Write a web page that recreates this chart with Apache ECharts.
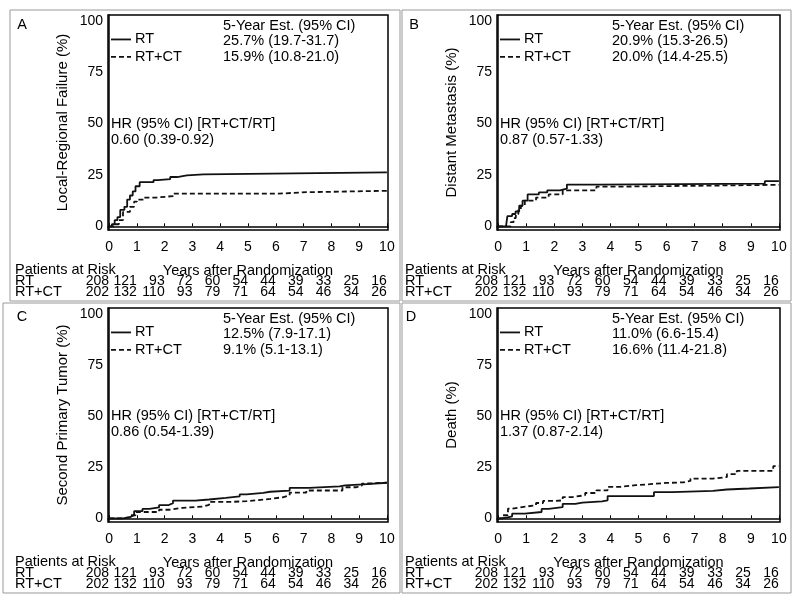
<!DOCTYPE html>
<html><head><meta charset="utf-8">
<script src="https://cdn.jsdelivr.net/npm/echarts@6/dist/echarts.min.js"></script>
<style>html,body{margin:0;padding:0;background:#fff}#c{width:800px;height:608px}</style>
</head><body><div id="c"></div>
<script>
// ---------- data ----------
const years = [0,1,2,3,4,5,6,7,8,9,10];
const yTicks = [0,25,50,75,100];
const atRiskRT   = [208,121,93,72,60,54,44,39,33,25,16];
const atRiskRTCT = [202,132,110,93,79,71,64,54,46,34,26];
const panelLetters = ['A','B','C','D'];
const yTitles = ['Local-Regional Failure (%)','Distant Metastasis (%)','Second Primary Tumor (%)','Death (%)'];
const estHeader = '5-Year Est. (95% CI)';
const est5RT   = ['25.7% (19.7-31.7)','20.9% (15.3-26.5)','12.5% (7.9-17.1)','11.0% (6.6-15.4)'];
const est5RTCT = ['15.9% (10.8-21.0)','20.0% (14.4-25.5)','9.1% (5.1-13.1)','16.6% (11.4-21.8)'];
const hrHeader = 'HR (95% CI) [RT+CT/RT]';
const hrValues = ['0.60 (0.39-0.92)','0.87 (0.57-1.33)','0.86 (0.54-1.39)','1.37 (0.87-2.14)'];
const groupNames = ['RT','RT+CT'];

const lrfRT = [[0,0],[0.1,1],[0.2,3],[0.3,4.5],[0.4,8],[0.55,9.5],[0.65,13],[0.75,15],[0.85,17],[0.95,19.5],[1.1,21.5],[1.6,22.5],[1.75,23],[2.2,24],[2.45,24.8],[2.8,25.3],[3.4,25.7],[5.85,26.3],[10,26.3]];
const lrfRTCT = [[0,0],[0.2,1],[0.35,3],[0.5,7],[0.75,9.5],[0.9,12],[1.0,13],[1.25,14],[1.7,14.7],[2.3,15.9],[6.1,16.6],[7.1,17.3],[10,17.3]];
const dmRT = [[0,0],[0.28,0],[0.33,5],[0.5,6],[0.62,7.2],[0.75,10],[0.87,12.5],[1.05,15.5],[1.45,16.5],[1.75,17.5],[2.2,18.3],[2.45,20.3],[3.5,20.8],[9.5,22],[10,22]];
const dmRTCT = [[0,0],[0.35,0],[0.45,2],[0.55,4],[0.63,6],[0.72,8],[0.81,10],[0.95,12.5],[1.35,14],[1.8,15.5],[2.3,17.5],[3.5,19.3],[4.2,20.2],[10,20.2]];
const spRT = [[0,0],[0.5,0.6],[0.75,1.5],[0.9,3.5],[1.2,4.6],[1.45,5.4],[1.8,6.5],[2.15,7.4],[2.3,8.7],[3.1,9.2],[3.6,10],[4.2,10.7],[4.7,11.7],[4.95,12.4],[5.55,13],[5.8,13.6],[6.5,14.9],[7.2,15.6],[8.3,16.1],[8.5,16.6],[9.15,17.4],[10,17.4]];
const spRTCT = [[0,0],[0.4,0.5],[0.75,1.5],[0.95,3.1],[1.8,4.2],[2.15,5.1],[2.65,5.8],[3.4,6.6],[3.6,8],[4.35,8.4],[4.95,8.8],[5.3,9.5],[5.8,10.3],[6.25,11.2],[6.5,12.6],[7.1,13.6],[8.4,15.2],[8.9,16],[9.1,17],[9.2,17.4],[10,17.4]];
const deathRT = [[0,0],[0.1,0.5],[0.35,1],[0.5,2.3],[0.95,3.1],[1.55,4.6],[1.8,5.5],[2.3,7.1],[2.75,7.7],[3.0,8.3],[3.7,8.8],[3.9,10.9],[5.55,12.8],[6.2,13.4],[7.65,14.1],[8.15,14.6],[8.95,15.3],[10,15.3]];
const deathRTCT = [[0,0],[0.15,1.5],[0.35,4.7],[0.5,5.5],[0.85,6.4],[1.35,7.5],[1.6,8.5],[2.05,8.8],[2.3,10.4],[2.65,11.3],[3.1,12.4],[3.5,13.7],[3.9,15.4],[4.35,16.2],[4.9,16.7],[5.4,17.3],[5.95,17.6],[6.6,18.3],[6.85,19.4],[7.65,20.2],[8.15,21.6],[8.5,23.2],[9.8,25.5],[10,25.5]];
const curvesRT = [lrfRT, dmRT, spRT, deathRT];
const curvesRTCT = [lrfRTCT, dmRTCT, spRTCT, deathRTCT];

// ---------- layout ----------
const FONT = 'Liberation Sans, Arial, Helvetica, sans-serif';
const grids = [
  {left:108, top:15, width:280, height:215},
  {left:497, top:15, width:283, height:215},
  {left:108, top:308, width:280, height:214},
  {left:497, top:308, width:283, height:214}
];
const boxes = [
  {x:10, y:10, width:390, height:291},
  {x:402, y:10, width:389, height:291},
  {x:3, y:303, width:397, height:290},
  {x:402, y:303, width:389, height:290}
];
const letterPos = [[22,25],[414,25],[22,317],[411,317]];
const rowLabelX = [15,405,15,405];
const XMIN = -0.04, XMAX = 10.04, YMIN = -1.8, YMAX = 102.9;
function yPix(g, v){ return g.top + (YMAX - v)/(YMAX-YMIN)*g.height; }

const xAxes = [], yAxes = [], series = [], graphic = [];
const txt = (x,y,text,opt={}) => ({type:'text', x, y, silent:true,
  style:Object.assign({text, fill:'#000', font:`${opt.size||14.5}px ${FONT}`, textAlign:opt.align||'left', textVerticalAlign:'middle'}, opt.style||{})});

grids.forEach((g,i)=>{
  xAxes.push({gridIndex:i, type:'value', min:XMIN, max:XMAX,
    name:'Years after Randomization', nameLocation:'middle', nameGap:33,
    nameTextStyle:{fontSize:14.5, color:'#000', fontFamily:FONT},
    axisLine:{show:true, lineStyle:{color:'#000', width:1.5}},
    axisTick:{show:true, inside:true, length:3, customValues:years, lineStyle:{color:'#000'}},
    axisLabel:{customValues:years, fontSize:14, color:'#000', fontFamily:FONT, margin:10},
    splitLine:{show:false}});
  yAxes.push({gridIndex:i, type:'value', min:YMIN, max:YMAX,
    name:yTitles[i], nameLocation:'middle', nameGap:38,
    nameTextStyle:{fontSize:15, color:'#000', fontFamily:FONT},
    axisLine:{show:true, lineStyle:{color:'#000', width:1.5}},
    axisTick:{show:false},
    axisLabel:{customValues:yTicks, fontSize:14, color:'#000', fontFamily:FONT, margin:5},
    splitLine:{show:false}});
});
[atRiskRT, atRiskRTCT].forEach((arr,r)=>{
  grids.forEach((g,i)=>{
    xAxes.push({gridIndex:i, type:'value', min:XMIN, max:XMAX, position:'bottom', offset: r===0?44:55,
      axisLine:{show:false}, axisTick:{show:false}, splitLine:{show:false},
      axisLabel:{customValues:years, fontSize:14, color:'#000', fontFamily:FONT, margin:0, align:'right',
        formatter:(v)=>String(arr[Math.round(v)])}});
  });
});
grids.forEach((g,i)=>{
  series.push({type:'line', name:'RT', xAxisIndex:i, yAxisIndex:i, step:'end', showSymbol:false, symbol:'none',
    data:curvesRT[i], lineStyle:{color:'#111', width:1.8}, clip:false});
  series.push({type:'line', name:'RT+CT', xAxisIndex:i, yAxisIndex:i, step:'end', showSymbol:false, symbol:'none',
    data:curvesRTCT[i], lineStyle:{color:'#111', width:1.8, type:[5,3]}, clip:false});

  // panel boxes
  graphic.push({type:'rect', shape:boxes[i], silent:true, style:{fill:'none', stroke:'#999', lineWidth:1}});
  // plot frame
  graphic.push({type:'rect', shape:{x:g.left, y:g.top, width:g.width, height:g.height}, silent:true, z:10,
    style:{fill:'none', stroke:'#000', lineWidth:1.5}});
  graphic.push(txt(letterPos[i][0], letterPos[i][1], panelLetters[i], {align:'center'}));
  const y100 = yPix(g,100), y50 = yPix(g,50);
  // legend samples
  graphic.push({type:'line', silent:true, shape:{x1:g.left+3, y1:y100+18.5, x2:g.left+23, y2:y100+18.5}, style:{stroke:'#111', lineWidth:1.8}});
  graphic.push({type:'line', silent:true, shape:{x1:g.left+3, y1:y100+36, x2:g.left+23, y2:y100+36}, style:{stroke:'#111', lineWidth:1.8, lineDash:[5,3]}});
  graphic.push(txt(g.left+27, y100+18.5, groupNames[0]));
  graphic.push(txt(g.left+27, y100+36, groupNames[1]));
  // 5 year estimates
  graphic.push(txt(g.left+115, y100+5, estHeader));
  graphic.push(txt(g.left+115, y100+20.5, est5RT[i]));
  graphic.push(txt(g.left+115, y100+36.5, est5RTCT[i]));
  // HR
  graphic.push(txt(g.left+3, y50, hrHeader));
  graphic.push(txt(g.left+3, y50+16, hrValues[i]));
  // at-risk labels
  const gb = g.top + g.height;
  graphic.push(txt(rowLabelX[i], gb+40, 'Patients at Risk'));
  graphic.push(txt(rowLabelX[i], gb+51, groupNames[0]));
  graphic.push(txt(rowLabelX[i], gb+62, groupNames[1]));
});

const chart = echarts.init(document.getElementById('c'), null, {renderer:'canvas'});
chart.setOption({
  animation:false,
  backgroundColor:'#fff',
  textStyle:{fontFamily:FONT},
  grid: grids.map(g=>Object.assign({containLabel:false}, g)),
  xAxis: xAxes, yAxis: yAxes, series, graphic
});
</script></body></html>
